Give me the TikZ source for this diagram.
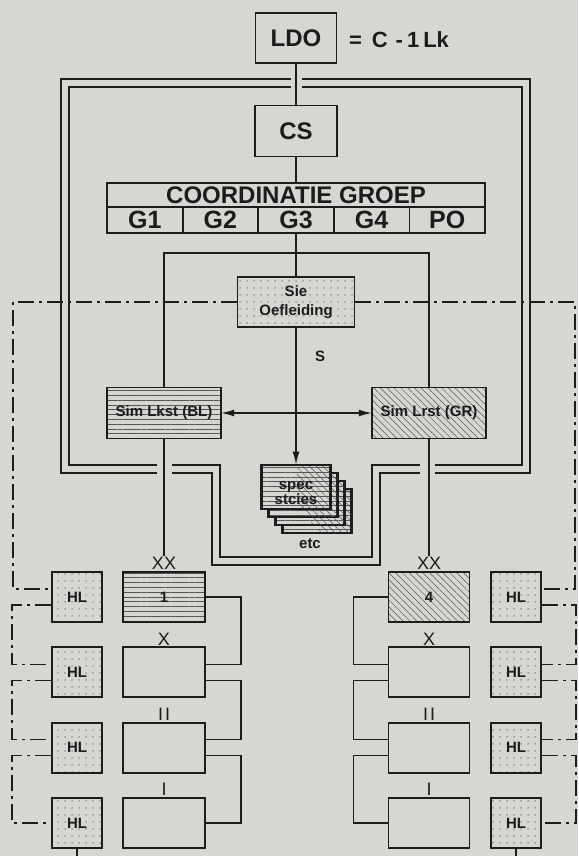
\documentclass[tikz,border=0pt]{standalone}
\usepackage{fontspec}
\setmainfont{Liberation Sans}
\usetikzlibrary{patterns.meta,calc,arrows.meta}
\definecolor{paper}{RGB}{214,214,211}
\definecolor{ink}{RGB}{28,28,28}

\tikzset{
  box/.style={draw=ink,line width=1.8pt,fill=paper,inner sep=0pt},
  dotbox/.style={box,preaction={fill=paper},pattern={Dots[distance=6.5pt,radius=0.75pt]},pattern color=ink!80},
  linebox/.style={box,preaction={fill=paper},pattern={Lines[distance=4.8pt,line width=0.45pt]},pattern color=ink!75},
  hatchbox/.style={box,preaction={fill=paper},pattern={Lines[angle=-45,distance=4.8pt,line width=0.5pt]},pattern color=ink!75},
  frame/.style={line width=1.3pt,double=paper,double distance=6.5pt},
  dashdot/.style={line width=1.4pt,dash pattern=on 16pt off 5pt on 3pt off 5pt},
  sign/.style={anchor=south,inner sep=0.5pt,font=\fontsize{18}{18}\selectfont},
  huge/.style={font=\bfseries\fontsize{24}{24}\selectfont},
  small/.style={font=\bfseries\fontsize{15}{12}\selectfont},
  tip/.style={-{Latex[length=13pt,width=7pt]}}
}

\begin{document}
\begin{tikzpicture}
    [x=1pt,y=-1pt,color=ink,line width=1.4pt]
    \useasboundingbox (0,0) rectangle (578,856);
    \fill[paper] (0,0) rectangle (578,856);

    % top of the chart
    \node[box,huge,minimum width=81pt,minimum height=50pt] (ldo) at (296,38) {LDO};
    \node[font=\bfseries\fontsize{22}{22}\selectfont] (eq) at (399,40) {=\hspace{10pt}C\hspace{8pt}-\hspace{4pt}1\hspace{4pt}Lk};
    \node[box,huge,minimum width=82pt,minimum height=51pt] (cs) at (296,131) {CS};
    \node[box,huge,minimum width=378pt,minimum height=24pt] (cg) at (296,195) {COORDINATIE GROEP};
    \foreach \t [count=\i] in {G1,G2,G3,G4,PO}
      \node[box,font=\bfseries\fontsize{25}{25}\selectfont,minimum width=75.6pt,minimum height=26pt] (g\i) at ({107+75.6*(\i-0.5)},220) {\t};

    \draw (ldo) -- (cs);
    \draw (cs) -- (cg);

    % double frame
    \draw[frame] (302,83) -- (526,83) -- (526,469) -- (435,469);
    \draw[frame] (420,469) -- (376,469) -- (376,561) -- (216,561) -- (216,469) -- (172,469);
    \draw[frame] (157,469) -- (65,469) -- (65,83) -- (291,83);
    \node[small] (etc) at (310,544) {etc};

    % middle
    \node[dotbox,small,minimum width=117pt,minimum height=50pt,align=center] (sie) at (296,302) {Sie\\[7pt]Oefleiding};
    \node[linebox,small,minimum width=114pt,minimum height=51pt] (siml) at (164,413) {Sim Lkst (BL)};
    \node[hatchbox,small,minimum width=114pt,minimum height=51pt] (simr) at (429,413) {Sim Lrst (GR)};
    \coordinate (top) at (296,253);

    \draw (g3.south) -- (sie.north);
    \draw (siml.north) -- (siml.north |- top) -- (simr.north |- top) -- (simr.north);
    \draw[{Latex[length=13pt,width=7pt]}-{Latex[length=13pt,width=7pt]}] (siml) -- (simr);

    \foreach \k in {3,2,1,0} {
      \node[linebox,minimum width=68pt,minimum height=43pt] (card\k) at ({296+7*\k},{487+8*\k}) {};
      \fill[pattern={Lines[angle=-45,distance=4.8pt,line width=0.5pt]},pattern color=ink!75]
        ($(card\k.north west)+(36,0)$) rectangle (card\k.south east);
      \draw[line width=1.8pt] (card\k.north west) rectangle (card\k.south east);
    }
    \node[small,align=center] (spec) at ($(card0)+(0,6)$) {spec\\stcies};
    \draw[tip] (sie) -- (card0);
    \node[small] (slab) at (320,356) {S};

    % bottom boxes
    \node[linebox,small,minimum width=82pt,minimum height=50pt] (ka1) at (164,597) {1};
    \node[hatchbox,small,minimum width=81pt,minimum height=50pt] (kb1) at (429,597) {4};
    \foreach \i in {2,3,4} {
      \node[box,minimum width=82pt,minimum height=50pt] (ka\i) at (164,{597+75.3*(\i-1)}) {};
      \node[box,minimum width=81pt,minimum height=50pt] (kb\i) at (429,{597+75.3*(\i-1)}) {};
    }
    \foreach \i in {1,...,4} {
      \node[dotbox,small,minimum size=50pt] (hla\i) at (77,{597+75.3*(\i-1)}) {HL};
      \node[dotbox,small,minimum size=50pt] (hlb\i) at (516,{597+75.3*(\i-1)}) {HL};
    }

    \node[sign] (xxa) at (ka1.north) {XX};
    \node[sign] (xxb) at (kb1.north) {XX};
    \node[sign] (xa) at (ka2.north) {X};
    \node[sign] (xb) at (kb2.north) {X};
    \node[sign] (iia) at (ka3.north) {I\hspace{2pt}I};
    \node[sign] (iib) at (kb3.north) {I\hspace{2pt}I};
    \node[sign] (ia) at (ka4.north) {I};
    \node[sign] (ib) at (kb4.north) {I};

    \draw (siml.south) -- (xxa.north);
    \draw (simr.south) -- (xxb.north);

    \foreach \i/\j/\a/\b in {1/2/0/-8,2/3/8/-8,3/4/8/0} {
      \draw ($(ka\i.east)+(0,\a)$) -- ++(35,0) |- ($(ka\j.east)+(0,\b)$);
      \draw ($(kb\i.west)+(0,\a)$) -- ++(-34,0) |- ($(kb\j.west)+(0,\b)$);
    }

    % dash-dot lines
    \coordinate (lc) at (13,302);
    \coordinate (rc) at (575,302);
    \draw[dashdot] (sie.west) -- (lc) |- ($(hla1.west)+(0,-8)$);
    \draw[dashdot] (sie.east) -- (rc) |- ($(hlb1.east)+(0,-8)$);
    \foreach \i/\j/\b in {1/2/-8,2/3/-8,3/4/0} {
      \draw[dashdot] ($(hla\i.west)+(0,8)$) -- ++(-39,0) |- ($(hla\j.west)+(0,\b)$);
      \draw[dashdot] ($(hlb\i.east)+(0,8)$) -- ++(34,0) |- ($(hlb\j.east)+(0,\b)$);
    }
    \draw (hla4.south) -- ++(0,8);
    \draw (hlb4.south) -- ++(0,8);
\end{tikzpicture}
\end{document}
